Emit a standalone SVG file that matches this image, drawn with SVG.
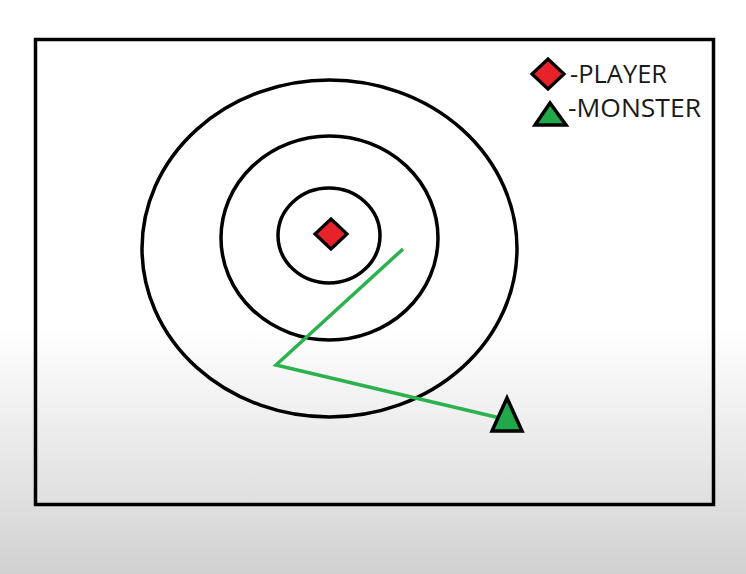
<svg xmlns="http://www.w3.org/2000/svg" width="746" height="574" viewBox="0 0 746 574">
  <defs>
    <linearGradient id="bg" x1="0" y1="0" x2="0" y2="574" gradientUnits="userSpaceOnUse">
      <stop offset="0" stop-color="#ffffff"/>
      <stop offset="0.57" stop-color="#ffffff"/>
      <stop offset="0.85" stop-color="#e2e2e2"/>
      <stop offset="1" stop-color="#d1d1d1"/>
    </linearGradient>
    <style>
      .ring { fill: none; stroke: #000; stroke-width: 3.5; }
      .player { fill: #e8222a; stroke: #000; stroke-width: 3.2; stroke-linejoin: miter; }
      .monster { fill: #22a84a; stroke: #000; stroke-width: 3.5; stroke-linejoin: miter; }
      .path { fill: none; stroke: #2bb24c; stroke-width: 3.5; stroke-linejoin: miter; }
      .label { font-family: "Open Sans", "Liberation Sans", sans-serif; font-size: 25.5px; fill: #1a1a1a; }
    </style>
  </defs>
  <rect x="0" y="0" width="746" height="574" fill="url(#bg)"/>
  <g id="frame">
    <rect x="35.5" y="39.5" width="678" height="465" fill="none" stroke="#000" stroke-width="3.5"/>
  </g>
  <g id="rings">
    <ellipse id="ring-outer" class="ring" cx="329.5" cy="248.5" rx="187.5" ry="168.5"/>
    <ellipse id="ring-middle" class="ring" cx="329.5" cy="238" rx="108.5" ry="102"/>
    <ellipse id="ring-inner" class="ring" cx="329" cy="235.5" rx="51" ry="47.5"/>
  </g>
  <g id="connectors">
    <polyline class="path" points="403,249 276,365 500,418"/>
  </g>
  <g id="player">
    <polygon class="player" points="331,219 347,234 331,249 315,234"/>
  </g>
  <g id="monster">
    <polygon class="monster" points="507,398 522,431 492,431"/>
  </g>
  <g id="legend-player">
    <polygon class="player" points="548,59 564,74 548,89 532,74"/>
    <text class="label" x="570" y="83" textLength="97" lengthAdjust="spacingAndGlyphs">-PLAYER</text>
  </g>
  <g id="legend-monster">
    <polygon class="monster" points="550,103 566,125 535,125"/>
    <text class="label" x="568" y="117" textLength="133" lengthAdjust="spacingAndGlyphs">-MONSTER</text>
  </g>
</svg>
